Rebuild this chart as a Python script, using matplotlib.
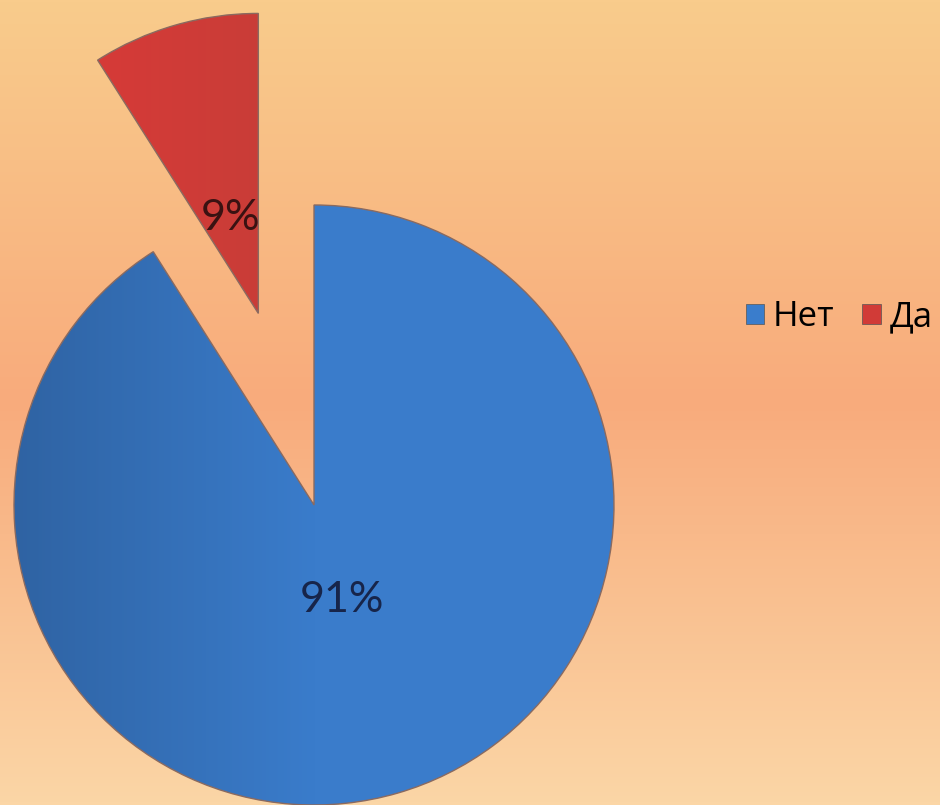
import numpy as np
import matplotlib
matplotlib.use("Agg")
import matplotlib.pyplot as plt
from matplotlib.colors import LinearSegmentedColormap
from matplotlib.patches import Patch

# данные
labels = ["Нет", "Да"]
values = [91, 9]
colors = ["#3a7dcc", "#d13b37"]

W, H = 940, 805
R = 300  # радиус круга в пикселях
explode = [0, 0.665 * R]

fig = plt.figure(figsize=(W / 100, H / 100), dpi=100)
ax = fig.add_axes([0, 0, 1, 1])

# фон: вертикальный градиент
bg = LinearSegmentedColormap.from_list(
    "bg", [(0, "#fbd6a6"), (0.5, "#f8ab7c"), (1, "#f9cc8c")])
grad = np.linspace(0, 1, 256).reshape(-1, 1)
ax.imshow(grad, cmap=bg, extent=(0, W, 0, H), origin="lower",
          aspect="auto", zorder=0)

wedges, texts, autotexts = ax.pie(
    values, colors=colors, explode=explode, startangle=90, counterclock=False,
    center=(314, 300), radius=R, autopct="%1.0f%%", pctdistance=0.33,
    wedgeprops=dict(edgecolor="#8a6a60", linewidth=1),
    textprops=dict(fontfamily="Lato", fontsize=31), frame=True)
ax.set_xlim(0, W)
ax.set_ylim(0, H)
ax.set_aspect("equal")
ax.axis("off")
autotexts[0].set_color("#17254a")
autotexts[1].set_color("#3a1212")

# горизонтальный градиент на секторах
blue = LinearSegmentedColormap.from_list(
    "blue", [(0, "#2f63a3"), (0.5, "#3a7ccb"), (1, "#3b7dcc")])
hg = np.linspace(0, 1, 256).reshape(1, -1)
im = ax.imshow(hg, cmap=blue, extent=(14, 614, 0, 610), aspect="auto", zorder=1.5)
im.set_clip_path(wedges[0])
red = LinearSegmentedColormap.from_list("red", [(0, "#d63a38"), (1, "#c93d37")])
im2 = ax.imshow(hg, cmap=red, extent=(95, 262, 480, 805), aspect="auto", zorder=1.5)
im2.set_clip_path(wedges[1])
for w in wedges:
    w.set_facecolor("none")
    w.set_zorder(2)
for t in autotexts:
    t.set_zorder(3)

handles = [Patch(facecolor=c, edgecolor="#555555", linewidth=0.5) for c in colors]
ax.legend(handles, labels, loc="center left", bbox_to_anchor=(746 / W, 488 / H),
          ncol=2, frameon=False, handlelength=0.52, handleheight=0.52,
          handletextpad=0.26, columnspacing=0.8, borderaxespad=0, borderpad=0,
          prop=dict(family="Open Sans", size=25))

fig.savefig("out.png", dpi=100)
